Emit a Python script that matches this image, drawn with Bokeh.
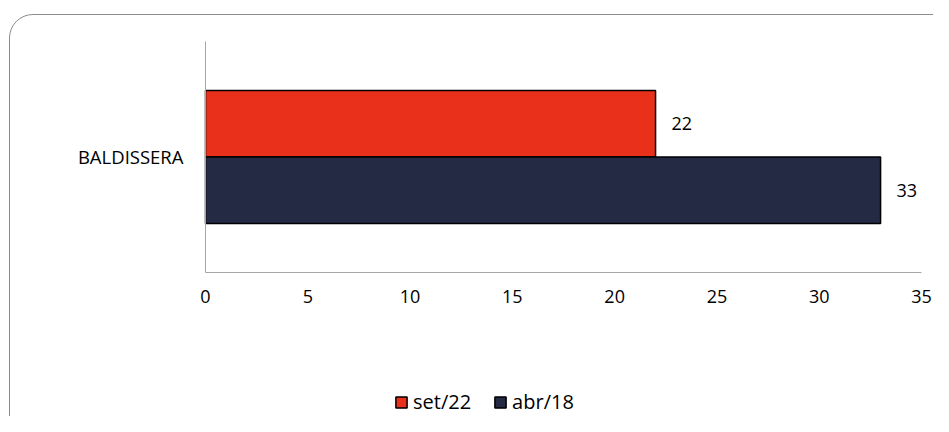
from bokeh.plotting import figure
from bokeh.models import (ColumnDataSource, Range1d, FixedTicker, LabelSet,
                          Legend, LegendItem, InlineStyleSheet)
from bokeh.core.properties import value
from bokeh.embed import file_html
from bokeh.resources import INLINE

# ---- data ----
categories = ["BALDISSERA"]
series_names = ["set/22", "abr/18"]
values_set22 = [22]
values_abr18 = [33]
x_ticks = [0, 5, 10, 15, 20, 25, 30, 35]

colors = ["#E8301A", "#252A44"]
FONT = "Open Sans"

# category positions (one category band = 1 unit, centred on its index)
cat_pos = list(range(len(categories)))
off = 0.144
bar_h = 0.288

W, H = 933, 416
p = figure(width=W, height=H, output_backend="svg", toolbar_location=None,
           x_range=Range1d(-10.021, 35.587), y_range=Range1d(-1.1234, 0.6775),
           min_border_left=0, min_border_right=0, min_border_top=0, min_border_bottom=0)
p.outline_line_color = None
p.grid.visible = False
p.background_fill_color = None
p.border_fill_color = None

src_a = ColumnDataSource(dict(y=[c + off for c in cat_pos], val=values_set22,
                              lab=[str(v) for v in values_set22]))
src_b = ColumnDataSource(dict(y=[c - off for c in cat_pos], val=values_abr18,
                              lab=[str(v) for v in values_abr18]))

r_a = p.hbar(y="y", left=0, right="val", height=bar_h, source=src_a,
             fill_color=colors[0], line_color="#000000", line_width=1.5)
r_b = p.hbar(y="y", left=0, right="val", height=bar_h, source=src_b,
             fill_color=colors[1], line_color="#000000", line_width=1.5)

for src in (src_a, src_b):
    p.add_layout(LabelSet(x="val", y="y", text="lab", source=src,
                          x_offset=16, text_align="left", text_baseline="middle",
                          text_font=value(FONT), text_font_size="18px", text_color="#000000"))

# axes (fixed inside the frame)
p.xaxis.ticker = FixedTicker(ticks=x_ticks)
p.xaxis.fixed_location = -0.5
p.xaxis.bounds = (0, 35)
p.yaxis.ticker = FixedTicker(ticks=cat_pos)
p.yaxis.major_label_overrides = {c: name for c, name in zip(cat_pos, categories)}
p.yaxis.fixed_location = 0
p.yaxis.bounds = (-0.5, 0.5)
for ax in (p.xaxis[0], p.yaxis[0]):
    ax.axis_line_color = "#A6A6A6"
    ax.axis_line_width = 1
    ax.major_tick_line_color = None
    ax.minor_tick_line_color = None
    ax.major_tick_out = 0
    ax.major_tick_in = 0
    ax.major_label_text_font = FONT
    ax.major_label_text_font_size = "18px"
    ax.major_label_text_color = "#000000"
p.yaxis.major_label_text_font_size = "18.5px"
p.xaxis.major_label_standoff = 18
p.yaxis.major_label_standoff = 22

legend = Legend(items=[LegendItem(label=series_names[0], renderers=[r_a]),
                       LegendItem(label=series_names[1], renderers=[r_b])],
                orientation="horizontal", location=(394, 1),
                glyph_width=14, glyph_height=14, label_standoff=5, spacing=22,
                padding=0, margin=0, border_line_color=None, background_fill_color=None,
                label_text_font=FONT, label_text_font_size="20px", label_text_color="#000000")
p.add_layout(legend, "center")

# rounded chart border (drawn by CSS around the figure, extending past the window)
p.stylesheets = [InlineStyleSheet(css="""
:host { position: relative; overflow: hidden; background: white; }
:host::after { content: ""; position: absolute; left: 9px; top: 14px; width: 951px; height: 428px;
  border: 1.5px solid #8C8C8C; border-radius: 24px; box-sizing: border-box; pointer-events: none; }
""")]

open("out.html", "w").write(file_html(p, INLINE))
